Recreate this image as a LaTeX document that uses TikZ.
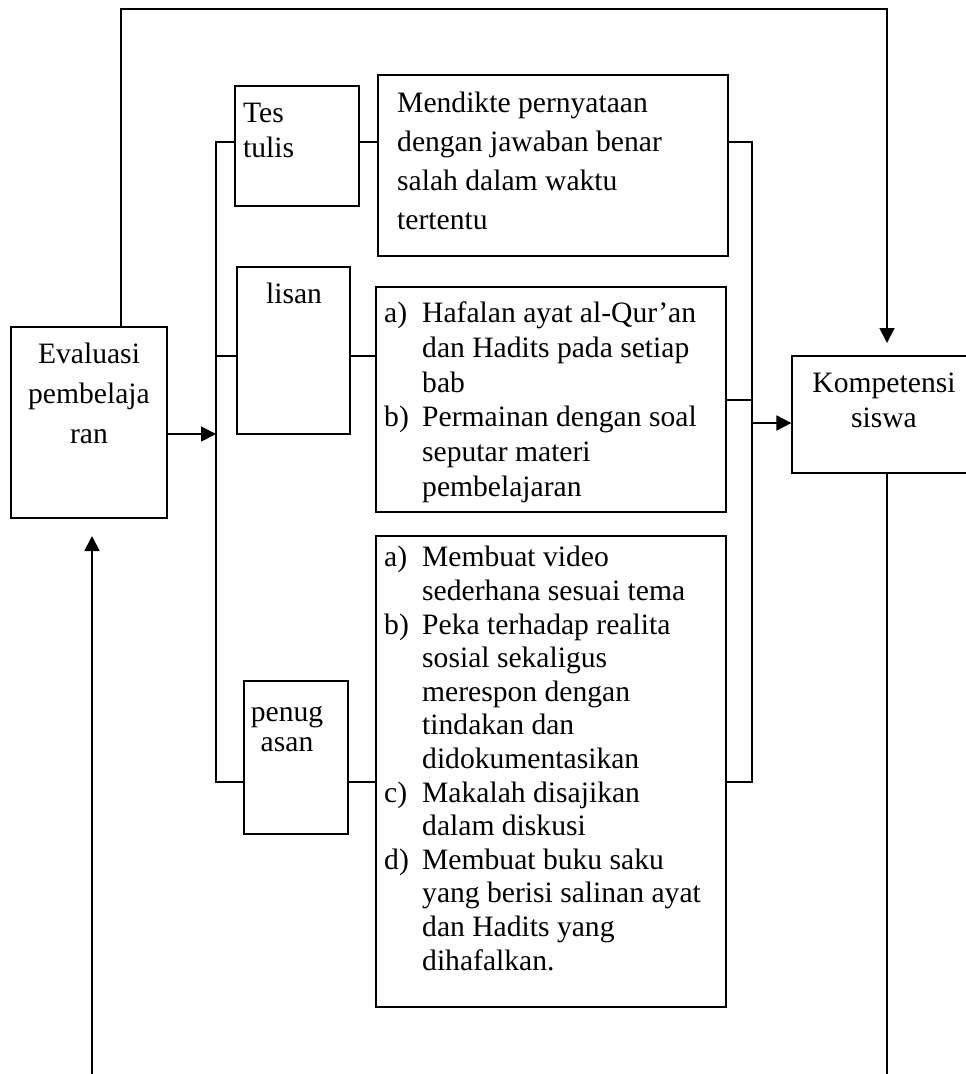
\documentclass[tikz,border=0pt]{standalone}
\usepackage{fontspec}
\setmainfont{Liberation Serif}
\usetikzlibrary{arrows.meta}
\begin{document}
\begin{tikzpicture}[x=1pt,y=-1pt,
  box/.style={draw, rectangle, line width=1.2pt, inner sep=0pt},
  heavybox/.style={box, line width=2.2pt},
  conn/.style={line width=1.8pt},
  arr/.style={conn, -{Triangle[length=15pt,width=15pt]}},
  txt/.style={inner sep=0pt},
  fs/.style={font=\fontsize{29.6pt}{#1}\selectfont},
]
\useasboundingbox (0,0) rectangle (966,1074);
\clip (0,0) rectangle (966,1074);

% boxes
\node[box, minimum width=156, minimum height=191] (eval) at (89,422.5) {};
\node[box, minimum width=124, minimum height=120] (tes) at (297,146) {};
\node[heavybox, minimum width=350, minimum height=181] (mend) at (553,165.5) {};
\node[box, minimum width=113, minimum height=167] (lisan) at (293.5,350.5) {};
\node[heavybox, minimum width=350, minimum height=225] (listxt) at (551,399.5) {};
\node[box, minimum width=104, minimum height=153] (penug) at (296,757.5) {};
\node[box, minimum width=350, minimum height=471] (pentxt) at (551,771.5) {};
\node[box, minimum width=186, minimum height=117] (komp) at (885,414.5) {};

% texts (base anchor = baseline of the last line)
\node[txt, fs=40pt, anchor=base, align=center] (evalT) at (89,443) {Evaluasi\\pembelaja\\ran};
\node[txt, fs=35.5pt, anchor=base west, align=left] (tesT) at (243,157.5) {Tes\\tulis};
\node[txt, fs=39pt, anchor=base west, align=left] (mendT) at (397,229)
  {Mendikte pernyataan\\dengan jawaban benar\\salah dalam waktu\\tertentu};
\node[txt, fs=35pt, anchor=base] (lisanT) at (294,303) {lisan};
\node[txt, fs=34.8pt, anchor=base west, align=left] (listxtT) at (384,496.5)
  {\makebox[38pt][l]{a)}Hafalan ayat al-Qur’an\\
   \hspace*{38pt}dan Hadits pada setiap\\
   \hspace*{38pt}bab\\
   \makebox[38pt][l]{b)}Permainan dengan soal\\
   \hspace*{38pt}seputar materi\\
   \hspace*{38pt}pembelajaran};
\node[txt, fs=30pt, anchor=base, align=center] (penugT) at (287,751) {penug\\asan};
\node[txt, fs=33.6pt, anchor=base west, align=left] (pentxtT) at (384,970)
  {\makebox[38pt][l]{a)}Membuat video\\
   \hspace*{38pt}sederhana sesuai tema\\
   \makebox[38pt][l]{b)}Peka terhadap realita\\
   \hspace*{38pt}sosial sekaligus\\
   \hspace*{38pt}merespon dengan\\
   \hspace*{38pt}tindakan dan\\
   \hspace*{38pt}didokumentasikan\\
   \makebox[38pt][l]{c)}Makalah disajikan\\
   \hspace*{38pt}dalam diskusi\\
   \makebox[38pt][l]{d)}Membuat buku saku\\
   \hspace*{38pt}yang berisi salinan ayat\\
   \hspace*{38pt}dan Hadits yang\\
   \hspace*{38pt}dihafalkan.};
\node[txt, fs=35pt, anchor=base, align=center] (kompT) at (884,427) {Kompetensi\\siswa};

% junction points
\coordinate (topL) at (121,9);
\coordinate (topR) at (887,9);
\coordinate (kompIn) at (887,343);
\coordinate (botR) at (887,1080);
\coordinate (botL) at (92,1080);
\coordinate (evalIn) at (92,536);
\coordinate (busLt) at (216,142);
\coordinate (busLb) at (216,782);
\coordinate (lisRow) at (216,356);
\coordinate (evRow) at (216,434);
\coordinate (busRt) at (752,142);
\coordinate (busRb) at (752,782);
\coordinate (kiRow) at (752,400);
\coordinate (kompRow) at (752,423);

% feedback loop
\draw[arr] (eval.north -| topL) -- (topL) -- (topR) -- (kompIn);
\draw[conn] (komp.south -| topR) -- (botR);
\draw[arr] (botL) -- (evalIn);

% left bus
\draw[arr] (eval.east |- evRow) -- (evRow);
\draw[conn] (tes.west |- busLt) -- (busLt) -- (busLb) -- (penug.west |- busLb);
\draw[conn] (lisRow) -- (lisan.west |- lisRow);
\draw[conn] (tes.east |- busLt) -- (mend.west |- busLt);
\draw[conn] (lisan.east |- lisRow) -- (listxt.west |- lisRow);
\draw[conn] (penug.east |- busLb) -- (pentxt.west |- busLb);

% right bus
\draw[conn] (mend.east |- busRt) -- (busRt) -- (busRb) -- (pentxt.east |- busRb);
\draw[conn] (listxt.east |- kiRow) -- (kiRow);
\draw[arr] (kompRow) -- (komp.west |- kompRow);
\end{tikzpicture}
\end{document}
